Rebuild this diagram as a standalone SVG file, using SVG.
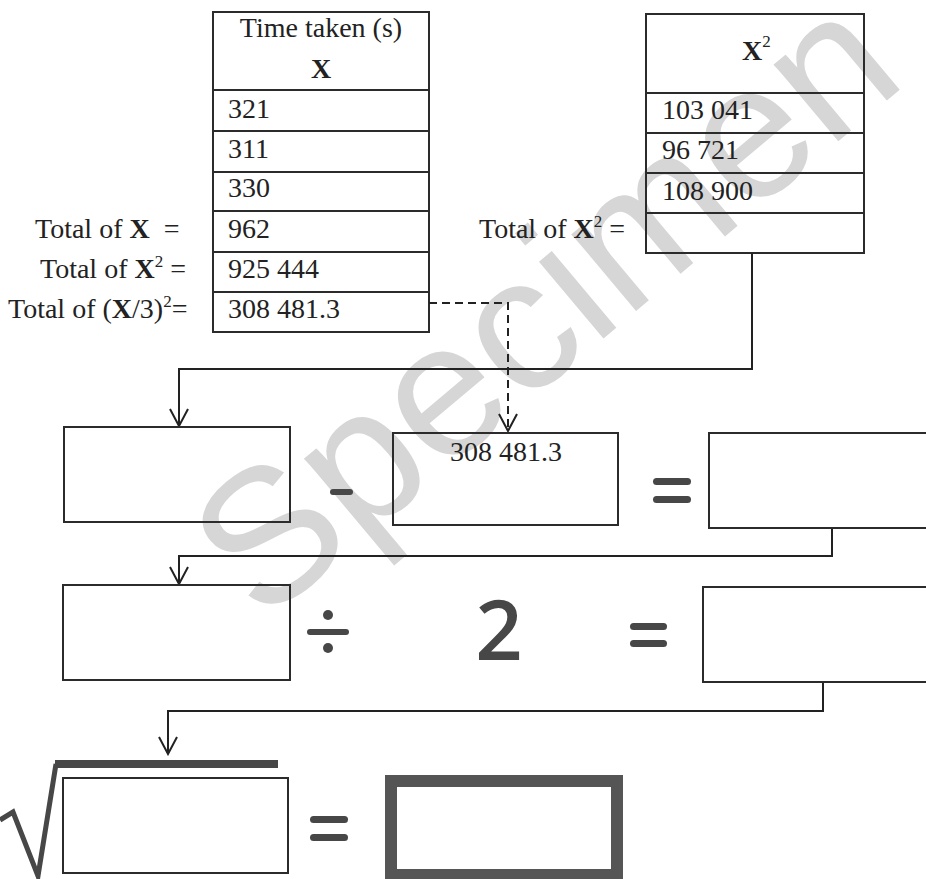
<svg xmlns="http://www.w3.org/2000/svg" width="926" height="879" viewBox="0 0 926 879">
<defs>
<style>
.bg{fill:#ffffff}
.wm{font-family:"Liberation Sans",Arial,sans-serif;font-size:190px;fill:#d6d6d6}
.cell{fill:none;stroke:#2b2b2b;stroke-width:2}
.box{fill:none;stroke:#2b2b2b;stroke-width:2}
.t{font-family:"Liberation Serif","Times New Roman",serif;font-size:28px;fill:#222}
.b{font-weight:bold}
.sup{font-size:17px}
.sym{fill:#474747}
.conn{fill:none;stroke:#222;stroke-width:2}
.dash{stroke-dasharray:8 5}
.big{font-family:"Open Sans","DejaVu Sans",sans-serif;font-size:83px;font-weight:600;fill:#474747}
</style>
<marker id="arr" markerUnits="userSpaceOnUse" markerWidth="20" markerHeight="20" refX="18" refY="10" orient="auto">
<path d="M1,1 L18,10 L1,19" fill="none" stroke="#222" stroke-width="2"/>
</marker>
</defs>
<rect class="bg" x="0" y="0" width="926" height="879"/>
<text class="wm" x="262" y="625" transform="rotate(-40 262 625)">Specimen</text>

<g id="table-x">
<rect class="cell" x="213" y="12" width="216" height="320"/>
<line class="cell" x1="213" y1="90" x2="429" y2="90"/>
<line class="cell" x1="213" y1="131" x2="429" y2="131"/>
<line class="cell" x1="213" y1="172" x2="429" y2="172"/>
<line class="cell" x1="213" y1="211" x2="429" y2="211"/>
<line class="cell" x1="213" y1="252" x2="429" y2="252"/>
<line class="cell" x1="213" y1="292" x2="429" y2="292"/>
<text class="t" x="321" y="37" text-anchor="middle">Time taken (s)</text>
<text class="t b" x="321" y="78" text-anchor="middle">X</text>
<text class="t" x="228" y="118">321</text>
<text class="t" x="228" y="158">311</text>
<text class="t" x="228" y="197">330</text>
<text class="t" x="228" y="238">962</text>
<text class="t" x="228" y="278">925 444</text>
<text class="t" x="228" y="318">308 481.3</text>
</g>

<g id="labels-x">
<text class="t" x="35" y="238" xml:space="preserve">Total of <tspan class="b">X</tspan>  =</text>
<text class="t" x="40" y="278">Total of <tspan class="b">X</tspan><tspan class="sup" dy="-11">2</tspan><tspan dy="11"> =</tspan></text>
<text class="t" x="8" y="318">Total of (<tspan class="b">X</tspan>/3)<tspan class="sup" dy="-11">2</tspan><tspan dy="11">=</tspan></text>
</g>

<g id="table-x2">
<rect class="cell" x="646" y="14" width="218" height="239"/>
<line class="cell" x1="646" y1="93" x2="864" y2="93"/>
<line class="cell" x1="646" y1="133" x2="864" y2="133"/>
<line class="cell" x1="646" y1="173" x2="864" y2="173"/>
<line class="cell" x1="646" y1="213" x2="864" y2="213"/>
<text class="t" x="742" y="60"><tspan class="b">X</tspan><tspan class="sup" dy="-13">2</tspan></text>
<text class="t" x="662" y="119">103 041</text>
<text class="t" x="662" y="159">96 721</text>
<text class="t" x="662" y="200">108 900</text>
<text class="t" x="479" y="238">Total of <tspan class="b">X</tspan><tspan class="sup" dy="-11">2</tspan><tspan dy="11"> =</tspan></text>
</g>

<g id="connectors">
<path class="conn" d="M752,253 V369 H179 V426" marker-end="url(#arr)"/>
<path class="conn dash" d="M429,303 H508 V431" marker-end="url(#arr)"/>
<path class="conn" d="M832,528 V556 H179 V584" marker-end="url(#arr)"/>
<path class="conn" d="M823,682 V711 H168 V754" marker-end="url(#arr)"/>
</g>

<g id="box-sumx2">
<rect class="box" x="64" y="427" width="226" height="95"/>
</g>
<g id="op-minus">
<rect class="sym" x="330" y="489" width="23" height="6" rx="3"/>
</g>
<g id="box-sub">
<rect class="box" x="393" y="433" width="225" height="92"/>
<text class="t" x="506" y="461" text-anchor="middle">308 481.3</text>
</g>
<g id="op-eq1">
<rect class="sym" x="653" y="478" width="38" height="7" rx="3.5"/>
<rect class="sym" x="653" y="496" width="38" height="7" rx="3.5"/>
</g>
<g id="box-diff">
<rect class="box" x="709" y="433" width="240" height="95"/>
</g>

<g id="box-div">
<rect class="box" x="63" y="585" width="227" height="95"/>
</g>
<g id="op-div">
<rect class="sym" x="307" y="629" width="42" height="6" rx="3"/>
<circle class="sym" cx="328" cy="615" r="5"/>
<circle class="sym" cx="328" cy="648" r="5"/>
</g>
<g id="num-2">
<text class="big" x="499" y="660" text-anchor="middle">2</text>
</g>
<g id="op-eq2">
<rect class="sym" x="630" y="623" width="37" height="7" rx="3.5"/>
<rect class="sym" x="630" y="640" width="37" height="7" rx="3.5"/>
</g>
<g id="box-var">
<rect class="box" x="703" y="587" width="240" height="95"/>
</g>

<g id="sqrt">
<polyline points="0,820 13,812 38,876 56,764" fill="none" stroke="#474747" stroke-width="5" stroke-linejoin="miter"/>
<rect class="sym" x="55" y="760" width="223" height="8"/>
</g>
<g id="box-sqrt">
<rect class="box" x="63" y="778" width="225" height="95"/>
</g>
<g id="op-eq3">
<rect class="sym" x="310" y="816" width="38" height="7" rx="3.5"/>
<rect class="sym" x="310" y="834" width="38" height="7" rx="3.5"/>
</g>
<g id="box-result">
<rect x="391" y="781" width="226" height="94" fill="none" stroke="#555" stroke-width="12"/>
</g>
</svg>
